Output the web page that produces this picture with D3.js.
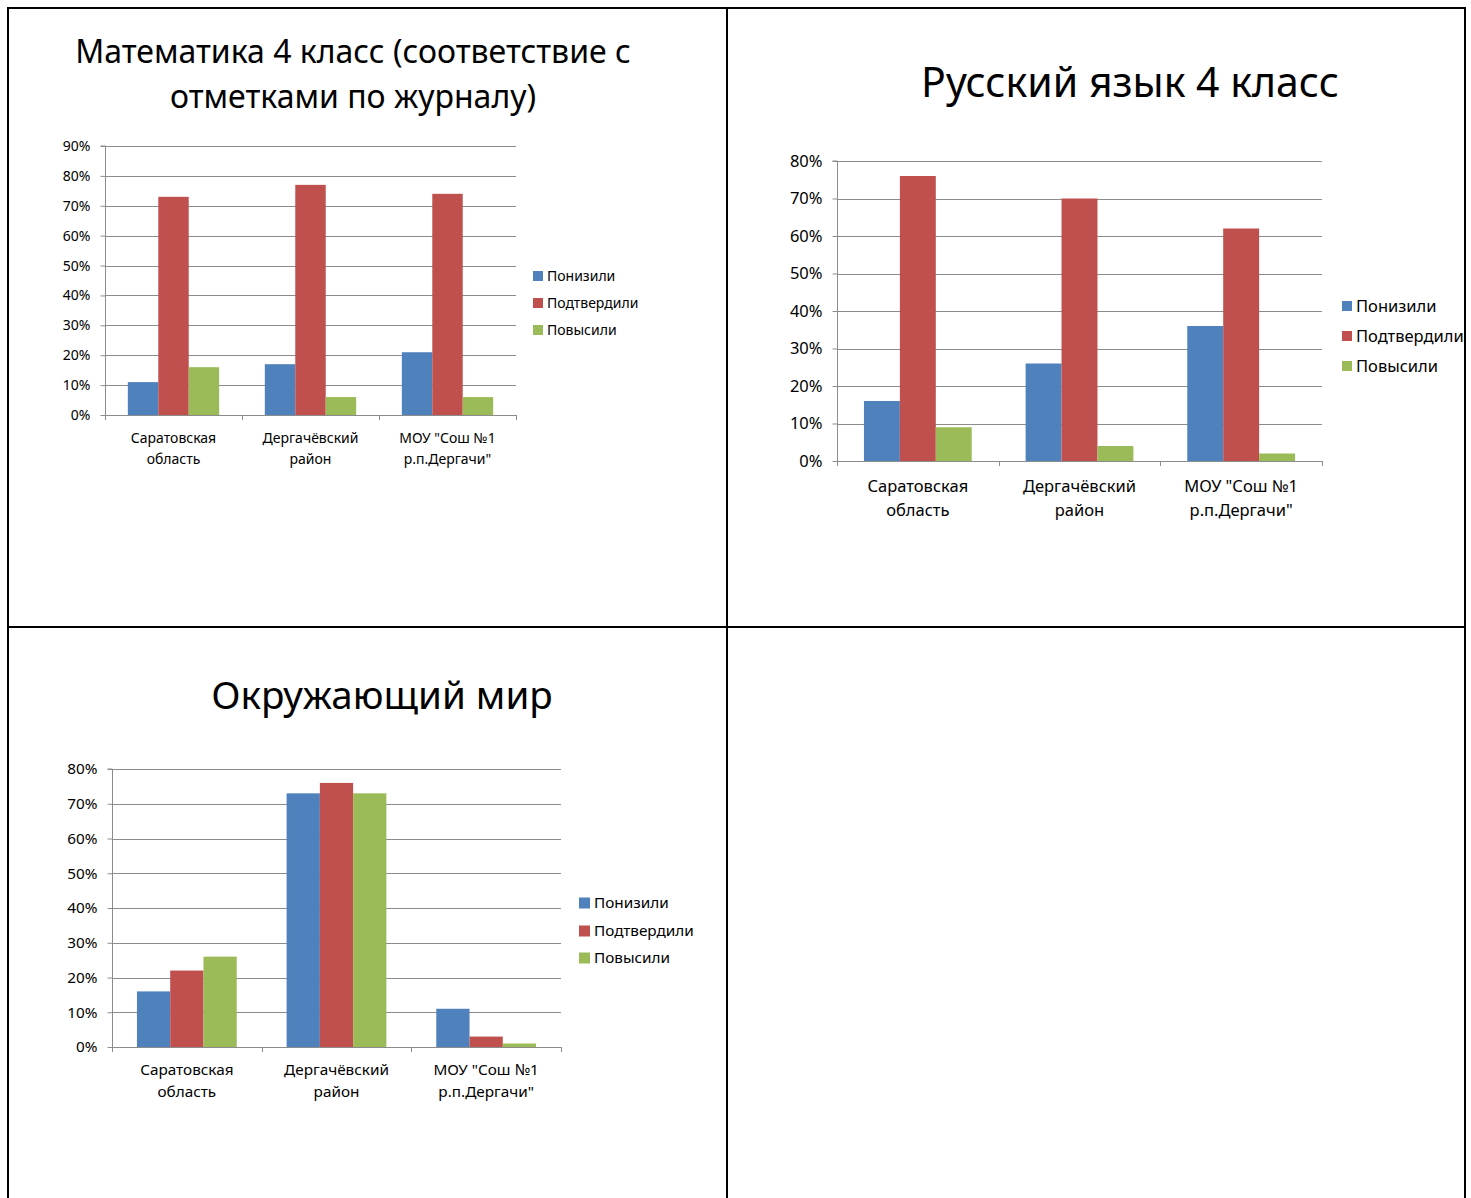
<!DOCTYPE html>
<html><head><meta charset="utf-8">
<script src="https://cdn.jsdelivr.net/npm/d3@7"></script>
<style>
html,body{margin:0;padding:0;background:#fff;}
svg{display:block;font-family:"Noto Sans","Open Sans",sans-serif;}
</style></head>
<body>
<svg id="c" width="1471" height="1198"></svg>
<script>
const categories = [["Саратовская","область"],["Дергачёвский","район"],["МОУ \"Сош №1","р.п.Дергачи\""]];
const seriesNames = ["Понизили","Подтвердили","Повысили"];
const seriesColors = ["#4F81BD","#C0504D","#9BBB59"];

const mathDown = [0.11,0.17,0.21];
const mathConfirm = [0.73,0.77,0.74];
const mathUp = [0.16,0.06,0.06];

const rusDown = [0.16,0.26,0.36];
const rusConfirm = [0.76,0.70,0.62];
const rusUp = [0.09,0.04,0.02];

const worldDown = [0.16,0.73,0.11];
const worldConfirm = [0.22,0.76,0.03];
const worldUp = [0.26,0.73,0.01];

const mathTicks = [0,0.1,0.2,0.3,0.4,0.5,0.6,0.7,0.8,0.9];
const rusTicks = [0,0.1,0.2,0.3,0.4,0.5,0.6,0.7,0.8];
const worldTicks = [0,0.1,0.2,0.3,0.4,0.5,0.6,0.7,0.8];

const svg = d3.select("#c");

function drawChart(o){
  const g = svg.append("g");
  const catIdx = categories.map((c,i)=>i);
  const x = d3.scaleBand().domain(catIdx).range([o.left,o.right]).paddingInner(0).paddingOuter(0);
  const bw = x.bandwidth()/4.5;
  const xs = d3.scaleBand().domain(seriesNames).range([0,bw*3]);
  const y = d3.scaleLinear().domain([0,o.max]).range([o.bottom,o.top]);
  const series = [o.down,o.confirm,o.up];

  // gridlines
  g.selectAll(".grid").data(o.ticks.slice(1)).enter().append("line")
    .attr("x1",o.left).attr("x2",o.right)
    .attr("y1",d=>Math.round(y(d))+0.5).attr("y2",d=>Math.round(y(d))+0.5)
    .attr("stroke","#8c8c8c").attr("stroke-width",1);

  // bars
  series.forEach((vals,si)=>{
    g.selectAll(".b"+si).data(vals).enter().append("rect")
      .attr("x",(d,i)=>x(i)+bw*0.75+xs(seriesNames[si]))
      .attr("width",bw)
      .attr("y",d=>y(d))
      .attr("height",d=>y(0)-y(d))
      .attr("fill",seriesColors[si]);
  });

  // y axis
  const ya = d3.axisLeft(y).tickValues(o.ticks).tickFormat(d3.format(".0%")).tickSize(5).tickPadding(o.tickPad);
  const yg = g.append("g").attr("transform",`translate(${Math.round(o.left)+0.5},0)`).call(ya);
  yg.select(".domain").attr("stroke","#8c8c8c").attr("d",`M-5,${o.top}H0V${o.bottom}`);
  yg.selectAll(".tick line").attr("stroke","#8c8c8c");
  yg.selectAll(".tick text").attr("font-size",o.fs).attr("fill","#000").attr("font-family","Noto Sans");

  // x axis
  g.append("line").attr("x1",o.left).attr("x2",o.right)
    .attr("y1",Math.round(o.bottom)+0.5).attr("y2",Math.round(o.bottom)+0.5).attr("stroke","#8c8c8c");
  const bounds = catIdx.map(i=>x(i)).concat([o.right]);
  g.selectAll(".xt").data(bounds).enter().append("line")
    .attr("x1",d=>Math.round(d)+0.5).attr("x2",d=>Math.round(d)+0.5)
    .attr("y1",o.bottom).attr("y2",o.bottom+5).attr("stroke","#8c8c8c");
  catIdx.forEach(i=>{
    const t = g.append("text").attr("x",x(i)+x.bandwidth()/2).attr("y",o.catY)
      .attr("text-anchor","middle").attr("font-size",o.fs).attr("fill","#000");
    categories[i].forEach((line,li)=>{
      t.append("tspan").attr("x",x(i)+x.bandwidth()/2).attr("dy",li===0?0:o.catLH).text(line);
    });
  });

  // legend
  seriesNames.forEach((n,si)=>{
    g.append("rect").attr("x",o.legX).attr("y",o.legY[si]-o.sq/2).attr("width",o.sq).attr("height",o.sq).attr("fill",seriesColors[si]);
    g.append("text").attr("x",o.legX+o.sq+4).attr("y",o.legY[si]).attr("dy","0.35em")
      .attr("font-size",o.fs).attr("fill","#000").text(n);
  });

  // title
  const tt = g.append("text").attr("text-anchor","middle").attr("font-size",o.titleFs).attr("fill","#000");
  o.title.forEach((line,li)=>{
    tt.append("tspan").attr("x",o.titleX).attr("y",o.titleY[li]).attr("dy","0.35em").text(line);
  });
}

drawChart({left:105,right:516,top:146,bottom:415,max:0.9,ticks:mathTicks,
  down:mathDown,confirm:mathConfirm,up:mathUp,fs:14,tickPad:10,catY:443,catLH:21,
  legX:533,legY:[276,303,330],sq:10,
  title:["Математика 4 класс (соответствие с","отметками по журналу)"],titleX:353,titleY:[52,97],titleFs:32});

drawChart({left:837,right:1322,top:161,bottom:461,max:0.8,ticks:rusTicks,
  down:rusDown,confirm:rusConfirm,up:rusUp,fs:16.5,tickPad:10,catY:492,catLH:24,
  legX:1342,legY:[306,336,366],sq:10,
  title:["Русский язык 4 класс"],titleX:1130,titleY:[83],titleFs:41});

drawChart({left:112,right:561,top:769,bottom:1047,max:0.8,ticks:worldTicks,
  down:worldDown,confirm:worldConfirm,up:worldUp,fs:15.3,tickPad:10,catY:1075,catLH:22,
  legX:579,legY:[903,931,958],sq:11,
  title:["Окружающий мир"],titleX:382,titleY:[696],titleFs:38.5});

// table borders
const borders = svg.append("g").attr("stroke","#000").attr("stroke-width",2);
borders.append("line").attr("x1",8).attr("x2",8).attr("y1",7).attr("y2",1198);
borders.append("line").attr("x1",727).attr("x2",727).attr("y1",7).attr("y2",1198);
borders.append("line").attr("x1",1465).attr("x2",1465).attr("y1",7).attr("y2",1198);
borders.append("line").attr("x1",7).attr("x2",1466).attr("y1",8).attr("y2",8);
borders.append("line").attr("x1",7).attr("x2",1466).attr("y1",627).attr("y2",627);
svg.append("rect").attr("x",1466).attr("y",0).attr("width",5).attr("height",1198).attr("fill","#fff");
</script>
</body></html>
